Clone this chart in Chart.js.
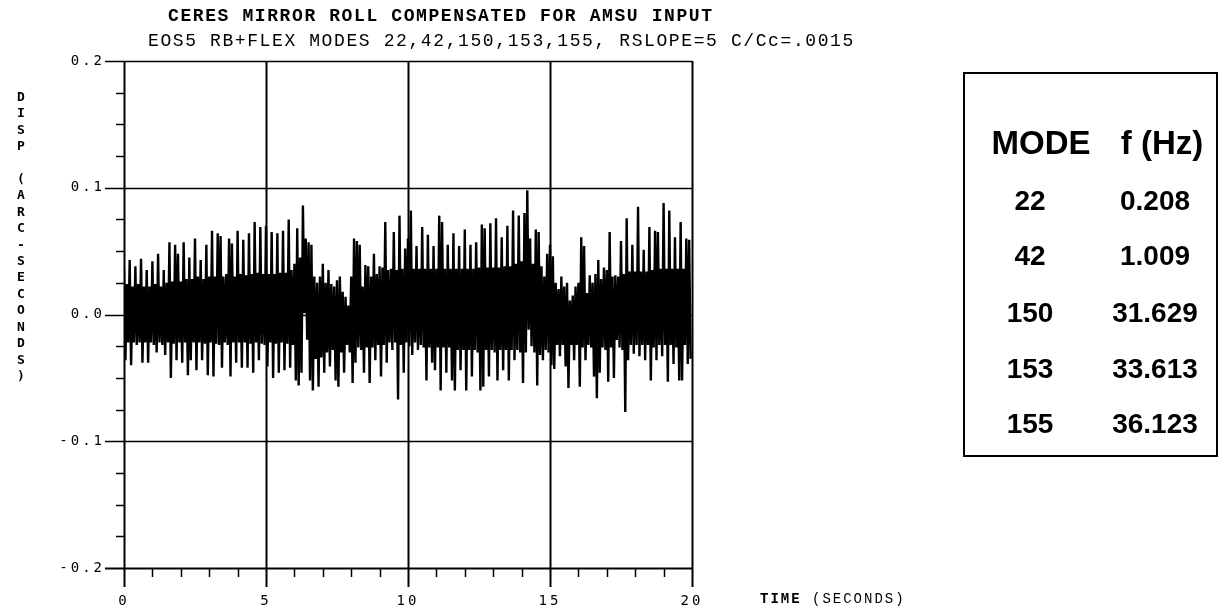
<!DOCTYPE html>
<html>
<head>
<meta charset="utf-8">
<script src="https://cdn.jsdelivr.net/npm/chart.js@4/dist/chart.umd.min.js"></script>
<style>
  html, body { margin: 0; padding: 0; background: #fff; }
  #wrap { position: relative; width: 1221px; height: 608px; overflow: hidden; background: #fff; }
  #plot { position: absolute; left: 0; top: 0; }
  .title { position: absolute; font-family: 'Liberation Mono', 'DejaVu Sans Mono', monospace; font-size: 18px; letter-spacing: 1.6px; color: #000; white-space: pre; line-height: 1; }
  #t1 { font-weight: bold; }
  #ytitle { position: absolute; left: 13px; top: 89px; width: 16px; font-family: 'DejaVu Sans Mono', monospace; font-weight: bold; font-size: 13px; line-height: 16.4px; text-align: center; color: #000; }
  #xtitle { position: absolute; left: 760px; top: 592px; font-family: 'Liberation Mono', monospace; font-size: 14px; letter-spacing: 2px; color: #000; white-space: pre; line-height: 1; }
  #xtitle b { font-weight: bold; }
  #modes { position: absolute; left: 963px; top: 72px; width: 251px; height: 381px; border: 2px solid #000; }
  .row { position: absolute; left: 0; width: 100%; font-family: 'Liberation Sans', Arial, sans-serif; font-weight: bold; font-size: 28px; line-height: 1; color: #000; }
  .row.head { font-size: 33px; }
  .row span { position: absolute; top: 0; transform: translateX(-50%); white-space: nowrap; }
</style>
</head>
<body>
<div id="wrap">
  <canvas id="plot" width="1221" height="608"></canvas>
  <div class="title" id="t1" style="left:168px; top:7px;"></div>
  <div class="title" id="t2" style="left:148px; top:32px;"></div>
  <div id="ytitle"></div>
  <div id="xtitle"><b>TIME</b> (SECONDS)</div>
  <div id="modes"></div>
</div>
<script>
// Chart text
const titleLines = [
  'CERES MIRROR ROLL COMPENSATED FOR AMSU INPUT',
  'EOS5 RB+FLEX MODES 22,42,150,153,155, RSLOPE=5 C/Cc=.0015'
];
const yAxisTitle = 'DISP (ARC-SECONDS)';

// Flexible mode table
const modeNumbers = [22, 42, 150, 153, 155];
const modeFreqs = ['0.208', '1.009', '31.629', '33.613', '36.123'];

// Axis ranges and tick spacing
const xMin = 0, xMax = 20, xMajor = 5, xMinor = 1;
const yMin = -0.2, yMax = 0.2, yMajor = 0.1, yMinor = 0.025;

// Sample spacing of the roll response (seconds): peaks at t, troughs at t + dt/2
const dt = 0.1;

// Roll displacement peaks (arc-seconds), one per 0.1 s, 0-5 s
const peaks0to5 = [
  0.035, 0.024, 0.043, 0.022, 0.038, 0.024, 0.044, 0.022, 0.035, 0.022,
  0.042, 0.024, 0.048, 0.022, 0.035, 0.025, 0.057, 0.026, 0.055, 0.048,
  0.026, 0.057, 0.028, 0.045, 0.028, 0.060, 0.030, 0.043, 0.028, 0.055,
  0.030, 0.066, 0.030, 0.064, 0.062, 0.030, 0.032, 0.060, 0.056, 0.030,
  0.066, 0.032, 0.059, 0.031, 0.064, 0.032, 0.073, 0.033, 0.069, 0.032
];
// 5-10 s
const peaks5to10 = [
  0.070, 0.032, 0.065, 0.032, 0.064, 0.033, 0.066, 0.033, 0.075, 0.035,
  0.040, 0.068, 0.045, 0.086, 0.060, 0.057, 0.055, 0.030, 0.025, 0.030,
  0.040, 0.025, 0.035, 0.024, 0.022, 0.027, 0.030, 0.018, 0.014, 0.007,
  0.030, 0.060, 0.058, 0.055, 0.022, 0.039, 0.038, 0.030, 0.048, 0.032,
  0.038, 0.037, 0.073, 0.035, 0.036, 0.065, 0.035, 0.078, 0.036, 0.052
];
// 10-15 s
const peaks10to15 = [
  0.060, 0.082, 0.036, 0.054, 0.036, 0.069, 0.036, 0.063, 0.036, 0.054,
  0.036, 0.078, 0.073, 0.036, 0.055, 0.036, 0.064, 0.036, 0.054, 0.036,
  0.067, 0.036, 0.055, 0.036, 0.057, 0.037, 0.071, 0.068, 0.037, 0.072,
  0.037, 0.076, 0.037, 0.061, 0.038, 0.070, 0.038, 0.082, 0.040, 0.078,
  0.042, 0.080, 0.098, 0.060, 0.040, 0.067, 0.065, 0.038, 0.030, 0.048
];
// 15-20 s
const peaks15to20 = [
  0.055, 0.046, 0.025, 0.020, 0.030, 0.022, 0.025, 0.011, 0.015, 0.022,
  0.025, 0.061, 0.054, 0.017, 0.031, 0.025, 0.032, 0.043, 0.028, 0.037,
  0.035, 0.065, 0.030, 0.031, 0.030, 0.058, 0.032, 0.076, 0.034, 0.055,
  0.034, 0.085, 0.034, 0.051, 0.034, 0.069, 0.035, 0.066, 0.065, 0.036,
  0.088, 0.036, 0.082, 0.036, 0.061, 0.036, 0.073, 0.036, 0.060, 0.059
];

// Roll displacement troughs (arc-seconds), 0-5 s
const troughs0to5 = [
  -0.036, -0.022, -0.040, -0.022, -0.024, -0.022, -0.038, -0.022, -0.038, -0.022,
  -0.024, -0.030, -0.022, -0.024, -0.032, -0.022, -0.050, -0.023, -0.036, -0.022,
  -0.038, -0.022, -0.048, -0.036, -0.022, -0.044, -0.022, -0.036, -0.023, -0.048,
  -0.022, -0.049, -0.023, -0.024, -0.042, -0.022, -0.024, -0.049, -0.022, -0.038,
  -0.022, -0.042, -0.022, -0.042, -0.023, -0.046, -0.022, -0.036, -0.023, -0.024
];
// 5-10 s
const troughs5to10 = [
  -0.041, -0.022, -0.050, -0.023, -0.046, -0.022, -0.044, -0.023, -0.042, -0.024,
  -0.052, -0.056, -0.046, 0.001, -0.020, -0.052, -0.060, -0.035, -0.057, -0.034,
  -0.046, -0.030, -0.041, -0.028, -0.052, -0.057, -0.030, -0.046, -0.024, -0.030,
  -0.054, -0.038, -0.026, -0.028, -0.046, -0.026, -0.054, -0.026, -0.036, -0.024,
  -0.049, -0.024, -0.038, -0.022, -0.028, -0.022, -0.067, -0.024, -0.046, -0.022
];
// 10-15 s
const troughs10to15 = [
  -0.025, -0.032, -0.022, -0.028, -0.024, -0.026, -0.052, -0.026, -0.038, -0.044,
  -0.026, -0.060, -0.026, -0.046, -0.026, -0.052, -0.060, -0.028, -0.044, -0.028,
  -0.060, -0.028, -0.049, -0.028, -0.030, -0.060, -0.057, -0.028, -0.049, -0.028,
  -0.030, -0.052, -0.028, -0.044, -0.028, -0.052, -0.028, -0.036, -0.028, -0.030,
  -0.054, -0.030, -0.012, -0.025, -0.030, -0.056, -0.032, -0.036, -0.028, -0.030
];
// 15-20 s
const troughs15to20 = [
  -0.040, -0.043, -0.024, -0.033, -0.024, -0.041, -0.058, -0.024, -0.036, -0.024,
  -0.057, -0.026, -0.036, -0.024, -0.026, -0.049, -0.066, -0.046, -0.026, -0.028,
  -0.053, -0.026, -0.050, -0.020, -0.026, -0.028, -0.077, -0.036, -0.024, -0.031,
  -0.024, -0.033, -0.024, -0.036, -0.024, -0.052, -0.026, -0.036, -0.024, -0.033,
  -0.024, -0.053, -0.024, -0.039, -0.026, -0.052, -0.052, -0.024, -0.039, -0.035
];

const peaks = [].concat(peaks0to5, peaks5to10, peaks10to15, peaks15to20);
const troughs = [].concat(troughs0to5, troughs5to10, troughs10to15, troughs15to20);

// Interleave peaks and troughs into one time history
const rollPoints = [];
for (let i = 0; i < peaks.length; i++) {
  rollPoints.push({ x: i * dt, y: peaks[i] });
  rollPoints.push({ x: i * dt + dt / 2, y: troughs[i] });
}

// Page text
document.getElementById('t1').textContent = titleLines[0];
document.getElementById('t2').textContent = titleLines[1];
document.getElementById('ytitle').innerHTML = yAxisTitle.split('').map(c => c === ' ' ? '&nbsp;' : c).join('<br>');
const modesBox = document.getElementById('modes');
const rowTops = [52, 113, 168, 225, 281, 336];
const headerCells = ['MODE', 'f (Hz)'];
[[headerCells[0], headerCells[1]]].concat(modeNumbers.map((m, i) => [String(m), modeFreqs[i]])).forEach((r, i) => {
  const row = document.createElement('div');
  row.className = i === 0 ? 'row head' : 'row';
  row.style.top = rowTops[i] + 'px';
  const a = document.createElement('span'); a.textContent = r[0]; a.style.left = (i === 0 ? 76 : 65) + 'px';
  const b = document.createElement('span'); b.textContent = r[1]; b.style.left = (i === 0 ? 197 : 190) + 'px';
  row.appendChild(a); row.appendChild(b);
  modesBox.appendChild(row);
});

// Frame, grid and tick marks drawn from the chart's scales
const framePlugin = {
  id: 'frame',
  beforeDatasetsDraw(chart) {
    const { ctx, chartArea: a, scales: { x, y } } = chart;
    ctx.save();
    ctx.strokeStyle = '#000';
    ctx.lineCap = 'butt';
    // vertical lines: axis, grid, right border
    for (let v = xMin; v <= xMax + 1e-9; v += xMajor) {
      const px = Math.round(x.getPixelForValue(v)) + 0.5;
      ctx.lineWidth = 2;
      ctx.beginPath(); ctx.moveTo(px, a.top); ctx.lineTo(px, a.bottom + 19); ctx.stroke();
    }
    // horizontal lines
    for (let k = 0; k <= Math.round((yMax - yMin) / yMajor); k++) {
      const v = yMin + k * yMajor;
      const py = Math.round(y.getPixelForValue(v)) + 0.5;
      ctx.lineWidth = (k === 0) ? 2 : 1.5;
      ctx.beginPath(); ctx.moveTo(a.left - 19, py); ctx.lineTo(a.right, py); ctx.stroke();
    }
    // minor ticks
    ctx.lineWidth = 1.5;
    for (let k = 0; k <= Math.round((xMax - xMin) / xMinor); k++) {
      const v = xMin + k * xMinor;
      if (k % Math.round(xMajor / xMinor) === 0) continue;
      const px = Math.round(x.getPixelForValue(v)) + 0.5;
      ctx.beginPath(); ctx.moveTo(px, a.bottom); ctx.lineTo(px, a.bottom + 9); ctx.stroke();
    }
    for (let k = 0; k <= Math.round((yMax - yMin) / yMinor); k++) {
      if (k % Math.round(yMajor / yMinor) === 0) continue;
      const v = yMin + k * yMinor;
      const py = Math.round(y.getPixelForValue(v)) + 0.5;
      ctx.beginPath(); ctx.moveTo(a.left - 8, py); ctx.lineTo(a.left, py); ctx.stroke();
    }
    ctx.restore();
  },
  beforeDraw(chart) { chart.ctx.letterSpacing = '3px'; },
  afterDraw(chart) { chart.ctx.letterSpacing = '0px'; }
};

new Chart(document.getElementById('plot'), {
  type: 'line',
  data: {
    datasets: [{
      data: rollPoints,
      borderColor: '#000',
      borderWidth: 2.4,
      borderJoinStyle: 'miter',
      pointRadius: 0,
      tension: 0,
      fill: false
    }]
  },
  options: {
    responsive: false,
    animation: false,
    devicePixelRatio: 1,
    layout: { padding: { top: 61, right: 529, left: 0, bottom: 0 } },
    plugins: { legend: { display: false }, tooltip: { enabled: false }, title: { display: false } },
    scales: {
      x: {
        type: 'linear', min: xMin, max: xMax,
        afterFit(s) { s.height = 40; },
        grid: { display: false, drawTicks: false },
        border: { display: false },
        ticks: {
          stepSize: xMajor, padding: 25, color: '#000', maxRotation: 0,
          font: { family: "'DejaVu Sans Mono', monospace", size: 14 },
          callback: v => String(v)
        }
      },
      y: {
        type: 'linear', min: yMin, max: yMax,
        afterFit(s) { s.width = 124; },
        grid: { display: false, drawTicks: false },
        border: { display: false },
        ticks: {
          stepSize: yMajor, padding: 19, color: '#000',
          font: { family: "'DejaVu Sans Mono', monospace", size: 14 },
          callback: v => (Math.abs(v) < 1e-9 ? 0 : v).toFixed(1)
        }
      }
    }
  },
  plugins: [framePlugin]
});
</script>
</body>
</html>
